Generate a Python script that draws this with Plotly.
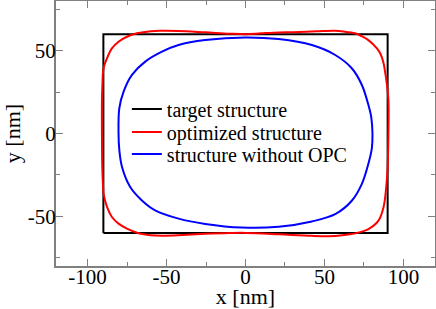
import plotly.graph_objects as go

# target structure (rectangle corners)
target_x = [-90, 90, 90, -90, -90]
target_y = [-60, -60, 60, 60, -60]

# optimized structure, traced from top centre round the loop
opt_x = [0.0, -10.0, -25.5, -42.6, -53.0, -60.0, -68.7, -75.1, -80.4, -84.6, -87.7, -89.9, -90.6, -90.9,
         -90.9, -90.7, -90.2, -89.9, -87.7, -84.6, -80.4, -75.1, -67.7, -60.0, -52.9, -40.0, -25.5, -10.0,
         0.0, 21.0, 42.0, 56.8, 65.0, 69.4, 77.8, 84.2, 87.4, 89.1, 90.0, 90.5, 90.5, 89.5, 88.6, 87.3,
         85.5, 83.2, 77.8, 73.0, 69.4, 62.0, 56.8, 45.0, 30.0, 21.0, 10.0, 0.0]
opt_y = [60.0, 60.3, 61.1, 61.9, 62.0, 61.8, 60.5, 58.4, 55.4, 51.4, 45.4, 39.4, 30.0, 20.0,
         0.0, -20.0, -32.0, -36.3, -44.3, -50.4, -54.4, -57.4, -60.2, -61.4, -61.7, -61.3, -60.6, -60.1,
         -60.0, -60.8, -61.8, -61.9, -61.0, -60.3, -57.7, -52.6, -44.5, -32.5, -20.0, 0.0, 20.0, 30.0, 36.0, 43.0,
         48.0, 51.4, 56.4, 59.0, 60.5, 61.6, 62.0, 61.7, 61.2, 61.0, 60.5, 60.0]

# structure without OPC, traced from top centre round the loop
noopc_x = [0.0, -25.5, -42.4, -52.9, -63.5, -71.9, -77.2, -79.9, -80.4, -79.9, -78.2, -73.0, -65.6, -57.2,
           -42.4, -25.5, -2.3, 21.0, 42.0, 56.8, 67.3, 73.7, 77.8, 80.0, 80.4, 79.6, 77.8, 73.7, 67.3,
           56.8, 42.0, 21.0, 0.0]
noopc_y = [58.0, 56.4, 53.4, 49.4, 43.4, 35.4, 25.3, 15.3, 0.0, -10.0, -20.2, -32.3, -40.4, -46.4,
           -51.4, -54.6, -56.8, -56.3, -53.1, -48.7, -40.6, -30.4, -18.3, -9.0, 0.0, 10.0, 17.3, 29.3, 39.4,
           47.4, 53.4, 57.0, 58.0]

x_ticks = [-100, -50, 0, 50, 100]
y_ticks = [-50, 0, 50]

FONT = "Liberation Serif"
GRAY = "#808080"

fig = go.Figure()
fig.add_trace(go.Scatter(x=target_x, y=target_y, mode="lines", name="target structure",
                         line=dict(color="black", width=2), legend="legend"))
fig.add_trace(go.Scatter(x=opt_x, y=opt_y, mode="lines", name="optimized structure",
                         line=dict(color="#ff0000", width=2, shape="spline", smoothing=1), legend="legend2"))
fig.add_trace(go.Scatter(x=noopc_x, y=noopc_y, mode="lines", name="structure without OPC",
                         line=dict(color="#0000ff", width=2, shape="spline", smoothing=1), legend="legend3"))

axis_common = dict(showgrid=False, zeroline=False, showline=True, linecolor=GRAY, linewidth=2,
                   mirror="allticks", ticks="inside", ticklen=7, tickwidth=1, tickcolor=GRAY,
                   automargin=False,
                   tickfont=dict(family=FONT, size=21, color="black"))

fig.update_xaxes(range=[-120, 120], tickvals=x_ticks, ticktext=[str(v) for v in x_ticks],
                 ticklabelstandoff=-9,
                 minor=dict(dtick=25, tick0=-125, ticks="inside", ticklen=4, tickcolor=GRAY, tickwidth=1, showgrid=False),
                 title=dict(text="x [nm]", font=dict(family=FONT, size=22, color="black")),
                 **axis_common)
fig.update_yaxes(range=[-80, 80], tickvals=y_ticks, ticktext=[str(v) for v in y_ticks],
                 ticklabelstandoff=-6,
                 minor=dict(dtick=25, tick0=-75, ticks="inside", ticklen=4, tickcolor=GRAY, tickwidth=1, showgrid=False),
                 title=dict(text="y [nm]", font=dict(family=FONT, size=22, color="black")),
                 **axis_common)

leg_common = dict(x=0.187, xanchor="left", yanchor="middle", bgcolor="rgba(0,0,0,0)",
                  font=dict(family=FONT, size=20, color="black"))

fig.update_layout(
    width=436, height=309,
    margin=dict(l=56, r=1, t=1, b=43),
    paper_bgcolor="white", plot_bgcolor="white",
    showlegend=True,
    legend=dict(y=0.592, **leg_common),
    legend2=dict(y=0.506, **leg_common),
    legend3=dict(y=0.423, **leg_common),
)

fig.write_html("out.html", config={"displayModeBar": False},
               post_script="document.body.style.margin='0';document.body.style.overflow='hidden';")
